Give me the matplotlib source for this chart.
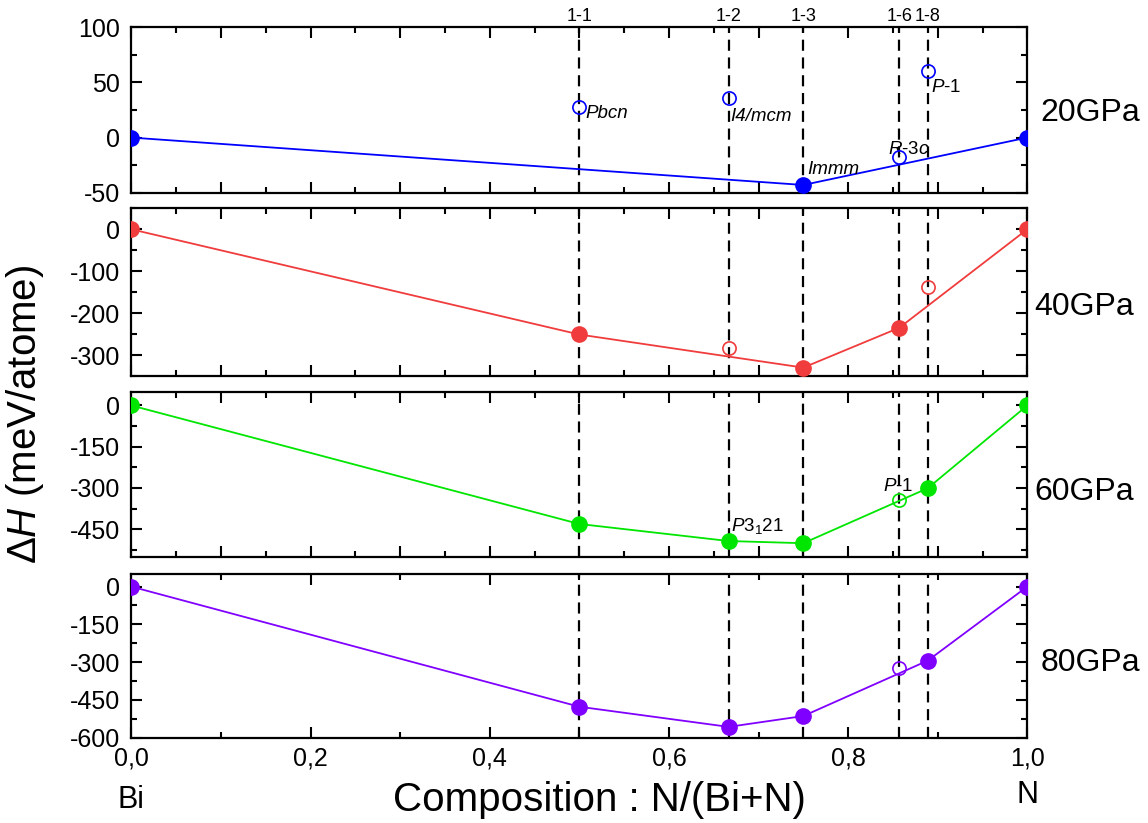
import matplotlib
matplotlib.use("Agg")
import matplotlib.pyplot as plt
from matplotlib.ticker import MultipleLocator, FuncFormatter
import matplotlib.transforms as mtransforms

plt.rcParams['font.family'] = ['Liberation Sans', 'DejaVu Sans']
plt.rcParams['mathtext.fontset'] = 'custom'
plt.rcParams['mathtext.rm'] = 'Liberation Sans'
plt.rcParams['mathtext.it'] = 'Liberation Sans:italic'
plt.rcParams['axes.unicode_minus'] = False

# ---- data ----
comp = [0.0, 0.5, 2/3, 0.75, 6/7, 8/9, 1.0]
phase_labels = ["1-1", "1-2", "1-3", "1-6", "1-8"]
phase_x = [0.5, 2/3, 0.75, 6/7, 8/9]

pressures = ["20GPa", "40GPa", "60GPa", "80GPa"]
colors = ["#0000ff", "#f03c3c", "#00e600", "#8000ff"]

dH_20 = [0, 28, 36, -43, -18, 60, 0]
dH_40 = [0, -251, -283, -330, -235, -137, 0]
dH_60 = [0, -431, -493, -501, -344, -301, 0]
dH_80 = [0, -477, -557, -514, -322, -294, 0]
values = [dH_20, dH_40, dH_60, dH_80]

# True = on the convex hull (filled); False = open circle
filled_20 = [True, False, False, True, False, False, True]
filled_40 = [True, True, False, True, True, False, True]
filled_60 = [True, True, True, True, False, True, True]
filled_80 = [True, True, True, True, False, True, True]
filled = [filled_20, filled_40, filled_60, filled_80]

ylims = [(-50, 100), (-350, 50), (-550, 50), (-600, 50)]
ymajor = [50, 100, 150, 150]
yminor = [25, 50, 75, 75]

W, H = 1148, 823
fig = plt.figure(figsize=(W / 100, H / 100), dpi=100)

panel_px = [(27.3, 192.7), (208.3, 376.0), (391.7, 556.7), (574.0, 737.7)]
left_px, right_px = 131.3, 1027.3

axes = []
for i, (t, b) in enumerate(panel_px):
    ax = fig.add_axes([left_px / W, 1 - b / H, (right_px - left_px) / W, (b - t) / H])
    axes.append(ax)

label_pos = [0.48, 0.41, 0.39, 0.455]
label_dx = [0.015, 0.008, 0.008, 0.015]

for i, ax in enumerate(axes):
    col = colors[i]
    xs = comp
    ys = values[i]
    fl = filled[i]
    hx = [x for x, f in zip(xs, fl) if f]
    hy = [y for y, f in zip(ys, fl) if f]
    ox = [x for x, f in zip(xs, fl) if not f]
    oy = [y for y, f in zip(ys, fl) if not f]

    for px in phase_x:
        ax.axvline(px, color='black', lw=1.6, ls=(0, (5, 3)), zorder=1)

    ax.plot(hx, hy, '-', color=col, lw=1.3, zorder=3)
    ax.plot(hx, hy, 'o', color=col, ms=11, mec=col, zorder=4)
    ax.plot(ox, oy, 'o', mfc='none', mec=col, mew=1.2, ms=9.5, zorder=4)

    ax.set_xlim(0, 1)
    ax.set_ylim(*ylims[i])
    ax.yaxis.set_major_locator(MultipleLocator(ymajor[i]))
    ax.yaxis.set_minor_locator(MultipleLocator(yminor[i]))
    if i < 3:
        ax.xaxis.set_major_locator(MultipleLocator(0.1))
        ax.xaxis.set_minor_locator(MultipleLocator(0.05))
        ax.tick_params(axis='x', labelbottom=False)
    else:
        ax.xaxis.set_major_locator(MultipleLocator(0.2))
        ax.xaxis.set_minor_locator(MultipleLocator(0.1))
        ax.xaxis.set_major_formatter(FuncFormatter(lambda v, p: f"{v:.1f}".replace('.', ',')))
    ax.tick_params(which='both', direction='in', top=True, right=True, width=1.5)
    ax.tick_params(which='major', length=8, labelsize=18)
    ax.tick_params(axis='y', which='major', pad=8)
    ax.tick_params(axis='x', which='major', pad=6)
    ax.tick_params(which='minor', length=4.5)
    for s in ax.spines.values():
        s.set_linewidth(1.6)

    ax.text(1 + label_dx[i], label_pos[i], pressures[i], transform=ax.transAxes,
            fontsize=23, ha='left', va='center')

# top composition labels
ax1 = axes[0]
trans = mtransforms.blended_transform_factory(ax1.transData, ax1.transAxes)
for lab, px in zip(phase_labels, phase_x):
    ax1.text(px, 1.012, lab, transform=trans, ha='center', va='bottom', fontsize=13)

# space group annotations
ax1.text(0.507, 22, "Pbcn", fontsize=13.5, style='italic', ha='left', va='center')
ax1.text(0.669, 19, "I4/mcm", fontsize=13.5, style='italic', ha='left', va='center')
ax1.text(0.754, -29, "Immm", fontsize=13.5, style='italic', ha='left', va='center')
ax1.text(0.845, -11, r"$R$-3$c$", fontsize=13.5, ha='left', va='center')
ax1.text(0.893, 45, r"$P$-1", fontsize=13.5, ha='left', va='center')
axes[2].text(0.669, -439, r"$P$3$_1$21", fontsize=13.5, ha='left', va='center')
axes[2].text(0.839, -296, r"$P$-1", fontsize=13.5, ha='left', va='center')

# axis labels
fig.text(0.522, 0.028, "Composition : N/(Bi+N)", fontsize=29, ha='center', va='center')
fig.text(0.022, 0.496, r"$\Delta H$ (meV/atome)", fontsize=29, rotation=90,
         ha='center', va='center')
ax4 = axes[3]
trans4 = mtransforms.blended_transform_factory(ax4.transData, fig.transFigure)
ax4.text(0.0, 1 - 800 / H, "Bi", transform=trans4, fontsize=22, ha='center', va='center')
ax4.text(1.0, 1 - 795 / H, "N", transform=trans4, fontsize=22, ha='center', va='center')

fig.savefig("out.png", dpi=100)
